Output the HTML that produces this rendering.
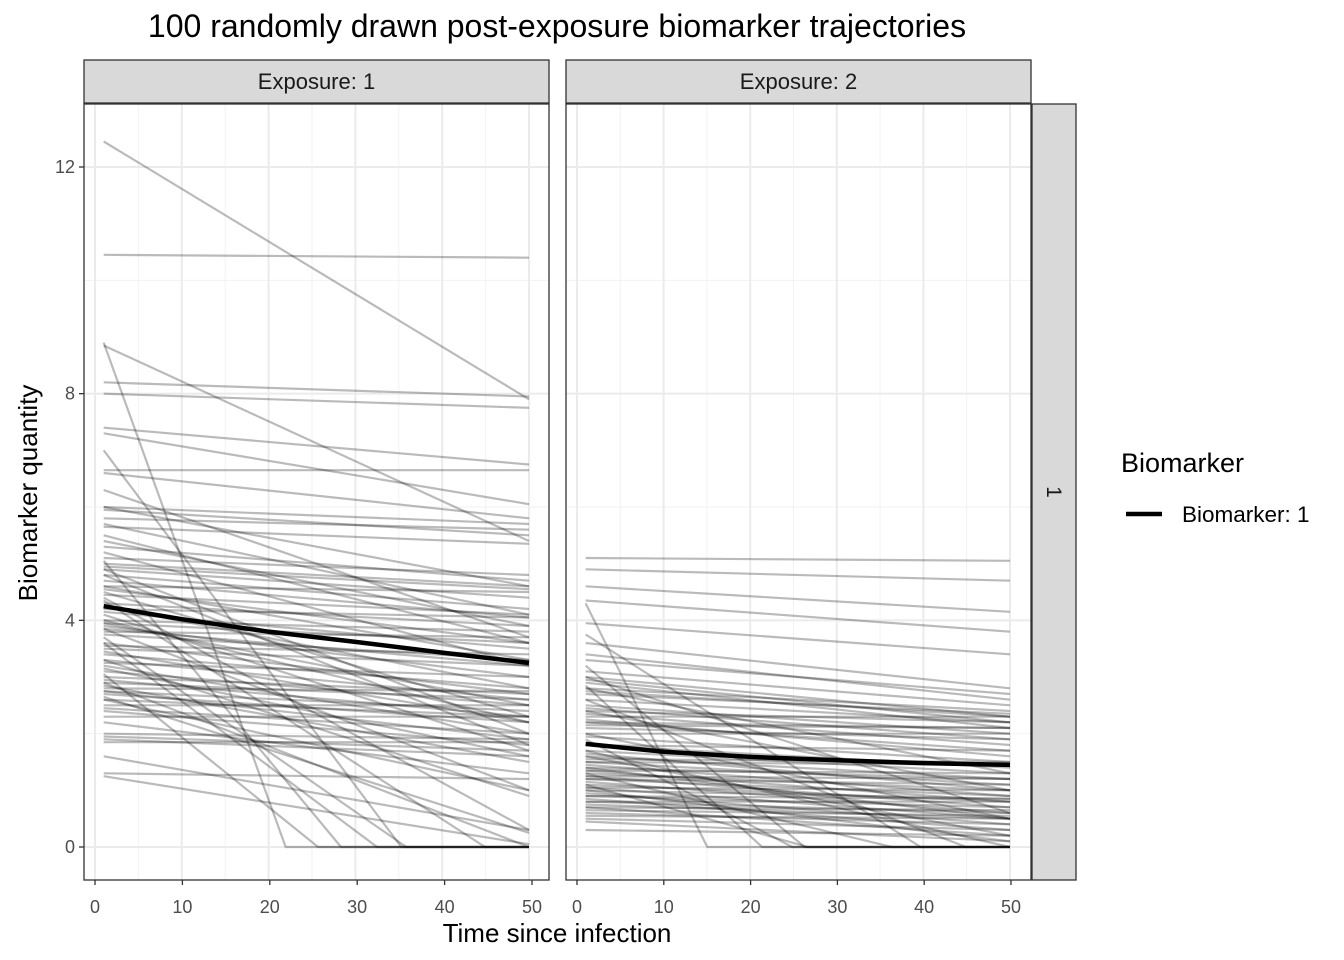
<!DOCTYPE html>
<html><head><meta charset="utf-8"><style>
html,body{margin:0;padding:0;background:#fff;}
svg{display:block;font-family:"Liberation Sans",sans-serif;}
</style></head><body>
<svg id="chart" width="1344" height="960" xmlns="http://www.w3.org/2000/svg"></svg>
<script>
const xTicks=[0,10,20,30,40,50];
const yTicks=[0,4,8,12];
const panelLabels=["Exposure: 1","Exposure: 2"];
const starts1=[12.45,10.45,8.9,8.85,8.2,8.0,7.4,7.3,7.0,6.65,6.6,6.0,5.95,5.8,5.7,5.65,5.1,5.0,5.05,4.95,4.9,4.8,4.7,4.6,4.55,4.5,4.45,4.4,4.3,4.2,4.15,4.1,4.0,3.95,3.9,3.85,3.8,3.75,3.7,3.6,3.55,3.5,3.45,3.4,3.3,3.25,3.2,3.1,3.05,3.0,2.95,2.9,2.85,2.8,2.75,2.7,2.65,2.6,2.5,2.45,2.4,2.3,2.2,2.0,1.95,1.9,1.85,1.6,1.3,1.25,5.2,4.9,5.5,6.3,4.35,3.6,6.0,5.3,4.8,4.0,3.3,2.9,2.6,3.95,5.4,3.15,2.75,4.6,3.85,4.25];
const ends1=[7.9,10.4,-11.9,5.4,7.95,7.75,6.75,6.05,-3,6.65,5.8,5.7,5.5,5.6,4.1,5.35,4.8,4.6,-4,4.55,4.4,4.2,4.05,4.5,3.6,2.3,4.1,0.3,3.9,4.05,3.5,1.7,3.8,3.6,3.0,1.0,3.7,3.3,-1.5,2.7,3.4,3.2,2.2,2.8,2.6,3.0,2.0,2.5,-3,2.7,2.3,2.6,1.5,2.75,2.4,2.2,0.25,2.3,2.5,2.0,1.8,2.3,1.3,1.9,1.7,1.6,1.85,0.3,1.2,0.05,3.2,2.0,3.6,3.7,-0.5,-2,4.6,4.7,1.8,2.2,0.9,0.0,1.0,2.5,3.9,1.6,1.9,3.3,3.2,2.8];
const starts2=[5.1,4.9,4.6,4.35,4.3,3.95,3.75,3.6,3.4,3.3,3.2,3.1,3.0,2.95,2.9,2.85,2.8,2.75,2.7,2.6,2.5,2.45,2.4,2.35,2.3,2.25,2.2,2.1,2.0,1.95,1.9,1.8,1.7,1.65,1.6,1.55,1.5,1.45,1.4,1.35,1.3,1.25,1.2,1.15,1.1,1.05,1.0,0.95,0.9,0.85,0.8,0.75,0.7,0.65,0.6,0.55,0.5,0.45,0.3,1.3,1.1,2.6,1.7,3.0,2.2,1.4,1.2,0.9,2.8,1.6,1.0,2.4,1.8,0.8,1.35,2.0,1.5,0.7,1.25,2.15,1.05];
const ends2=[5.05,4.7,4.15,3.8,-10.7,3.4,-1,2.8,2.6,2.7,-3,2.5,2.3,2.2,2.1,-4,2.4,2.3,2.35,2.2,2.0,1.9,2.2,1.8,2.3,1.6,1.7,1.9,0.5,1.5,-2,1.4,1.3,1.0,1.2,1.5,1.1,0.9,1.2,0.8,1.0,0.7,0.9,0.6,0.8,0.5,0.85,0.4,0.7,0.3,0.6,0.5,0.2,0.55,0.4,0.5,0.3,0.1,0.2,-0.5,-1,-0.3,0.0,0.6,2.1,0.5,1.1,0.85,1.3,0.2,0.1,1.0,1.7,0.8,1.3,2.0,1.45,0.65,1.2,2.1,1.0];
const meanT=[1,10,20,30,40,50];
const mean1=[4.25,4.02,3.8,3.62,3.43,3.25];
const mean2=[1.82,1.68,1.59,1.53,1.48,1.45];

const NS="http://www.w3.org/2000/svg";
const svg=document.getElementById('chart');
function mk(tag,attrs,parent){const e=document.createElementNS(NS,tag);for(const k in attrs)e.setAttribute(k,attrs[k]);(parent||svg).appendChild(e);return e;}
const panels=[{x0:84,x1:549,zx:95,fx:529,tx:532},{x0:566,x1:1031,zx:577,fx:1010,tx:1011}];
const PY0=104,PY1=880;
function yS(v){return 847-v*(847-167)/12;}
panels.forEach((p,i)=>{
  const xS=t=>p.zx+t*(p.fx-p.zx)/50;
  const g=mk('g',{});
  
  
  mk('rect',{x:p.x0,y:PY0,width:p.x1-p.x0,height:PY1-PY0,fill:'#fff'},g);
  [2,6,10].forEach(v=>mk('line',{x1:p.x0,x2:p.x1,y1:yS(v),y2:yS(v),stroke:'#f2f2f2','stroke-width':1},g));
  [5,15,25,35,45].forEach(v=>mk('line',{x1:xS(v),x2:xS(v),y1:PY0,y2:PY1,stroke:'#f2f2f2','stroke-width':1},g));
  yTicks.forEach(v=>mk('line',{x1:p.x0,x2:p.x1,y1:yS(v),y2:yS(v),stroke:'#ebebeb','stroke-width':2},g));
  xTicks.forEach(v=>mk('line',{x1:xS(v),x2:xS(v),y1:PY0,y2:PY1,stroke:'#ebebeb','stroke-width':2},g));
  const S=i==0?starts1:starts2,E=i==0?ends1:ends2;
  S.forEach((a,k)=>{
    const b=E[k];const sl=(a-b)/49;
    let pts=[[1,a]];
    if(b<0){const tz=1+a/sl;pts.push([tz,0]);pts.push([50,0]);}else pts.push([50,b]);
    const pl=mk('polyline',{points:pts.map(q=>xS(q[0])+','+yS(q[1])).join(' '),fill:'none',stroke:'#000','stroke-opacity':0.27,'stroke-width':2.2},g);
    
    
  });
  const M=i==0?mean1:mean2;
  const ml=mk('polyline',{points:meanT.map((t,k)=>xS(t)+','+yS(M[k])).join(' '),fill:'none',stroke:'#000','stroke-width':4.5},g);
  
  
  mk('rect',{x:p.x0,y:PY0,width:p.x1-p.x0,height:PY1-PY0,fill:'none',stroke:'#333','stroke-width':1.3},g);
  const st=mk('rect',{x:p.x0,y:60,width:p.x1-p.x0,height:43,fill:'#d9d9d9',stroke:'#333','stroke-width':1.3});
  
  
  const stt=mk('text',{x:(p.x0+p.x1)/2,y:89,'text-anchor':'middle','font-size':22,fill:'#1a1a1a'});
  stt.textContent=panelLabels[i];
  
  
  xTicks.forEach(v=>{
    const tx0=p.zx+v*(p.tx-p.zx)/50;
    mk('line',{x1:tx0,x2:tx0,y1:PY1,y2:PY1+5,stroke:'#333','stroke-width':1.3});
    const tx=mk('text',{x:tx0,y:913,'text-anchor':'middle','font-size':18,fill:'#4d4d4d'});
    tx.textContent=v;
    
    
  });
});
yTicks.forEach(v=>{
  mk('line',{x1:79,x2:84,y1:yS(v),y2:yS(v),stroke:'#333','stroke-width':1.3});
  const t=mk('text',{x:75,y:yS(v)+6,'text-anchor':'end','font-size':18,fill:'#4d4d4d'});
  t.textContent=v;
  
  
});
const rs=mk('rect',{x:1032,y:104,width:44,height:776,fill:'#d9d9d9',stroke:'#333','stroke-width':1.3});


const rst=mk('text',{x:1047,y:492,'text-anchor':'middle','font-size':21,fill:'#1a1a1a',transform:'rotate(90 1047 492)'});
rst.textContent='1';


const title=mk('text',{x:557,y:37,'text-anchor':'middle','font-size':32,fill:'#000'});
title.textContent='100 randomly drawn post-exposure biomarker trajectories';


const xt=mk('text',{x:557,y:942,'text-anchor':'middle','font-size':26,fill:'#000'});
xt.textContent='Time since infection';


const yt=mk('text',{x:37,y:493,'text-anchor':'middle','font-size':26,fill:'#000',transform:'rotate(-90 37 493)'});
yt.textContent='Biomarker quantity';


const lt=mk('text',{x:1121,y:472,'font-size':27,fill:'#000'});
lt.textContent='Biomarker';


const ll=mk('line',{x1:1126,x2:1162,y1:514,y2:514,stroke:'#000','stroke-width':4.5});


const lx=mk('text',{x:1182,y:522,'font-size':22.5,fill:'#000'});
lx.textContent='Biomarker: 1';


</script>
</body></html>
